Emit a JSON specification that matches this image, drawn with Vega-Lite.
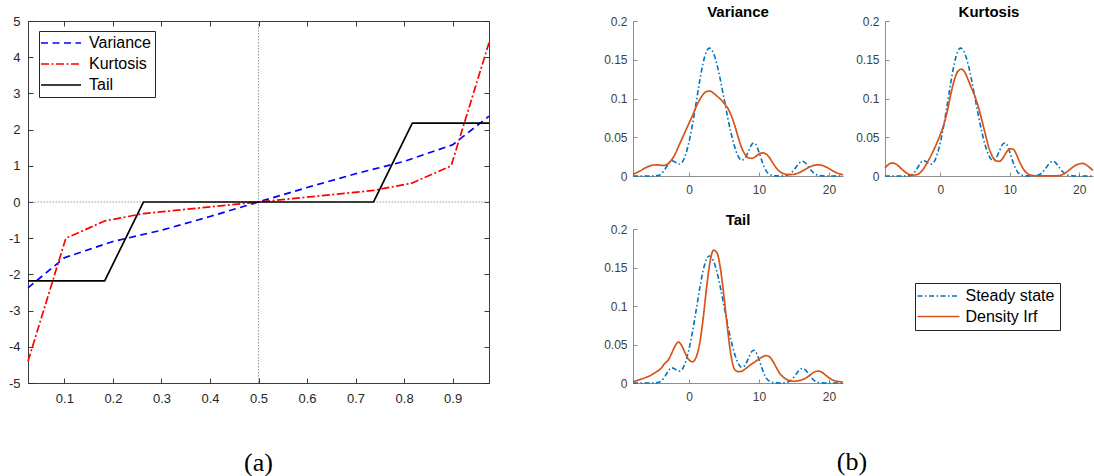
{
  "$schema": "https://vega.github.io/schema/vega-lite/v6.json",
  "background": "white",
  "padding": {"left": 8, "top": 5, "right": 0, "bottom": 0},
  "config": {
    "font": "Liberation Sans",
    "view": {"stroke": null},
    "axis": {"grid": false, "domainColor": "#262626", "domainWidth": 0.9, "tickColor": "#262626", "tickWidth": 0.9, "labelColor": "#262626", "labelFont": "Liberation Sans", "labelOverlap": false, "title": null},
    "title": {"font": "Liberation Sans", "fontSize": 15, "fontWeight": "bold", "color": "#000000", "offset": -5, "anchor": "middle"}
  },
  "datasets": {
    "quantiles": [
      {"series": "Variance", "q": 0.025, "v": -2.37}, {"series": "Variance", "q": 0.1, "v": -1.54}, {"series": "Variance", "q": 0.2, "v": -1.09},
      {"series": "Variance", "q": 0.3, "v": -0.78}, {"series": "Variance", "q": 0.4, "v": -0.4}, {"series": "Variance", "q": 0.5, "v": 0},
      {"series": "Variance", "q": 0.6, "v": 0.4}, {"series": "Variance", "q": 0.7, "v": 0.78}, {"series": "Variance", "q": 0.8, "v": 1.12},
      {"series": "Variance", "q": 0.9, "v": 1.58}, {"series": "Variance", "q": 0.975, "v": 2.37},
      {"series": "Kurtosis", "q": 0.025, "v": -4.4}, {"series": "Kurtosis", "q": 0.103, "v": -1.0}, {"series": "Kurtosis", "q": 0.184, "v": -0.52},
      {"series": "Kurtosis", "q": 0.263, "v": -0.32}, {"series": "Kurtosis", "q": 0.5, "v": 0}, {"series": "Kurtosis", "q": 0.737, "v": 0.32},
      {"series": "Kurtosis", "q": 0.816, "v": 0.52}, {"series": "Kurtosis", "q": 0.897, "v": 1.0}, {"series": "Kurtosis", "q": 0.975, "v": 4.4},
      {"series": "Tail", "q": 0.025, "v": -2.18}, {"series": "Tail", "q": 0.183, "v": -2.18}, {"series": "Tail", "q": 0.263, "v": 0},
      {"series": "Tail", "q": 0.737, "v": 0}, {"series": "Tail", "q": 0.817, "v": 2.18}, {"series": "Tail", "q": 0.975, "v": 2.18}
    ],
    "steady": [
      {"series": "Steady state", "x": -8, "y": 0}, {"series": "Steady state", "x": -7.5, "y": 0}, {"series": "Steady state", "x": -7, "y": 0},
      {"series": "Steady state", "x": -6.5, "y": 0}, {"series": "Steady state", "x": -6, "y": 0}, {"series": "Steady state", "x": -5.5, "y": 0},
      {"series": "Steady state", "x": -5, "y": 0.0001}, {"series": "Steady state", "x": -4.5, "y": 0.0005}, {"series": "Steady state", "x": -4, "y": 0.0025},
      {"series": "Steady state", "x": -3.5, "y": 0.0077}, {"series": "Steady state", "x": -3, "y": 0.0151}, {"series": "Steady state", "x": -2.5, "y": 0.0197},
      {"series": "Steady state", "x": -2, "y": 0.0181}, {"series": "Steady state", "x": -1.5, "y": 0.0152}, {"series": "Steady state", "x": -1, "y": 0.0174},
      {"series": "Steady state", "x": -0.5, "y": 0.0272}, {"series": "Steady state", "x": 0, "y": 0.0439}, {"series": "Steady state", "x": 0.5, "y": 0.0665},
      {"series": "Steady state", "x": 1, "y": 0.0934}, {"series": "Steady state", "x": 1.5, "y": 0.1211}, {"series": "Steady state", "x": 2, "y": 0.1452},
      {"series": "Steady state", "x": 2.5, "y": 0.1609}, {"series": "Steady state", "x": 2.9, "y": 0.165}, {"series": "Steady state", "x": 3.5, "y": 0.1584},
      {"series": "Steady state", "x": 4, "y": 0.1438}, {"series": "Steady state", "x": 4.5, "y": 0.1234}, {"series": "Steady state", "x": 5, "y": 0.1001},
      {"series": "Steady state", "x": 5.5, "y": 0.0767}, {"series": "Steady state", "x": 6, "y": 0.0556}, {"series": "Steady state", "x": 6.5, "y": 0.0383},
      {"series": "Steady state", "x": 7, "y": 0.0261}, {"series": "Steady state", "x": 7.5, "y": 0.0205}, {"series": "Steady state", "x": 8, "y": 0.023},
      {"series": "Steady state", "x": 8.5, "y": 0.0323}, {"series": "Steady state", "x": 9, "y": 0.0412}, {"series": "Steady state", "x": 9.3, "y": 0.0426},
      {"series": "Steady state", "x": 9.5, "y": 0.0412}, {"series": "Steady state", "x": 10, "y": 0.0308}, {"series": "Steady state", "x": 10.5, "y": 0.0171},
      {"series": "Steady state", "x": 11, "y": 0.007}, {"series": "Steady state", "x": 11.5, "y": 0.0021}, {"series": "Steady state", "x": 12, "y": 0.0005},
      {"series": "Steady state", "x": 12.5, "y": 0.0001}, {"series": "Steady state", "x": 13, "y": 0}, {"series": "Steady state", "x": 13.5, "y": 0.0002},
      {"series": "Steady state", "x": 14, "y": 0.001}, {"series": "Steady state", "x": 14.5, "y": 0.0032}, {"series": "Steady state", "x": 15, "y": 0.0078},
      {"series": "Steady state", "x": 15.5, "y": 0.014}, {"series": "Steady state", "x": 16, "y": 0.0185}, {"series": "Steady state", "x": 16.2, "y": 0.019},
      {"series": "Steady state", "x": 16.5, "y": 0.018}, {"series": "Steady state", "x": 17, "y": 0.0128}, {"series": "Steady state", "x": 17.5, "y": 0.0067},
      {"series": "Steady state", "x": 18, "y": 0.0026}, {"series": "Steady state", "x": 18.5, "y": 0.0007}, {"series": "Steady state", "x": 19, "y": 0.0002},
      {"series": "Steady state", "x": 19.5, "y": 0}, {"series": "Steady state", "x": 20, "y": 0}, {"series": "Steady state", "x": 21, "y": 0},
      {"series": "Steady state", "x": 22, "y": 0}
    ],
    "irf": [
      {"panel": "Variance", "series": "Density Irf", "x": -8, "y": 0.0022}, {"panel": "Variance", "series": "Density Irf", "x": -7, "y": 0.0065},
      {"panel": "Variance", "series": "Density Irf", "x": -6, "y": 0.0115}, {"panel": "Variance", "series": "Density Irf", "x": -5, "y": 0.0142},
      {"panel": "Variance", "series": "Density Irf", "x": -4.5, "y": 0.0143}, {"panel": "Variance", "series": "Density Irf", "x": -4, "y": 0.0138},
      {"panel": "Variance", "series": "Density Irf", "x": -3.5, "y": 0.0138}, {"panel": "Variance", "series": "Density Irf", "x": -3, "y": 0.0158},
      {"panel": "Variance", "series": "Density Irf", "x": -2.5, "y": 0.0205}, {"panel": "Variance", "series": "Density Irf", "x": -2, "y": 0.028},
      {"panel": "Variance", "series": "Density Irf", "x": -1.5, "y": 0.038}, {"panel": "Variance", "series": "Density Irf", "x": -1, "y": 0.048},
      {"panel": "Variance", "series": "Density Irf", "x": -0.5, "y": 0.058}, {"panel": "Variance", "series": "Density Irf", "x": 0, "y": 0.068},
      {"panel": "Variance", "series": "Density Irf", "x": 0.5, "y": 0.078}, {"panel": "Variance", "series": "Density Irf", "x": 1, "y": 0.089},
      {"panel": "Variance", "series": "Density Irf", "x": 1.5, "y": 0.098}, {"panel": "Variance", "series": "Density Irf", "x": 2, "y": 0.105},
      {"panel": "Variance", "series": "Density Irf", "x": 2.5, "y": 0.109}, {"panel": "Variance", "series": "Density Irf", "x": 3, "y": 0.1095},
      {"panel": "Variance", "series": "Density Irf", "x": 3.5, "y": 0.107}, {"panel": "Variance", "series": "Density Irf", "x": 4, "y": 0.103},
      {"panel": "Variance", "series": "Density Irf", "x": 4.5, "y": 0.099}, {"panel": "Variance", "series": "Density Irf", "x": 5, "y": 0.094},
      {"panel": "Variance", "series": "Density Irf", "x": 5.5, "y": 0.088}, {"panel": "Variance", "series": "Density Irf", "x": 6, "y": 0.079},
      {"panel": "Variance", "series": "Density Irf", "x": 6.5, "y": 0.066}, {"panel": "Variance", "series": "Density Irf", "x": 7, "y": 0.051},
      {"panel": "Variance", "series": "Density Irf", "x": 7.5, "y": 0.037}, {"panel": "Variance", "series": "Density Irf", "x": 8, "y": 0.028},
      {"panel": "Variance", "series": "Density Irf", "x": 8.5, "y": 0.0235}, {"panel": "Variance", "series": "Density Irf", "x": 9, "y": 0.0228},
      {"panel": "Variance", "series": "Density Irf", "x": 9.5, "y": 0.025}, {"panel": "Variance", "series": "Density Irf", "x": 10, "y": 0.0285},
      {"panel": "Variance", "series": "Density Irf", "x": 10.5, "y": 0.0298}, {"panel": "Variance", "series": "Density Irf", "x": 11, "y": 0.0285},
      {"panel": "Variance", "series": "Density Irf", "x": 11.5, "y": 0.0235}, {"panel": "Variance", "series": "Density Irf", "x": 12, "y": 0.0165},
      {"panel": "Variance", "series": "Density Irf", "x": 12.5, "y": 0.01}, {"panel": "Variance", "series": "Density Irf", "x": 13, "y": 0.0055},
      {"panel": "Variance", "series": "Density Irf", "x": 13.5, "y": 0.003}, {"panel": "Variance", "series": "Density Irf", "x": 14, "y": 0.002},
      {"panel": "Variance", "series": "Density Irf", "x": 14.5, "y": 0.0018}, {"panel": "Variance", "series": "Density Irf", "x": 15, "y": 0.0022},
      {"panel": "Variance", "series": "Density Irf", "x": 15.5, "y": 0.0035}, {"panel": "Variance", "series": "Density Irf", "x": 16, "y": 0.0055},
      {"panel": "Variance", "series": "Density Irf", "x": 16.5, "y": 0.008}, {"panel": "Variance", "series": "Density Irf", "x": 17, "y": 0.0105},
      {"panel": "Variance", "series": "Density Irf", "x": 17.5, "y": 0.0127}, {"panel": "Variance", "series": "Density Irf", "x": 18, "y": 0.014},
      {"panel": "Variance", "series": "Density Irf", "x": 18.5, "y": 0.0144}, {"panel": "Variance", "series": "Density Irf", "x": 19, "y": 0.0138},
      {"panel": "Variance", "series": "Density Irf", "x": 19.5, "y": 0.012}, {"panel": "Variance", "series": "Density Irf", "x": 20, "y": 0.0095},
      {"panel": "Variance", "series": "Density Irf", "x": 20.5, "y": 0.0068}, {"panel": "Variance", "series": "Density Irf", "x": 21, "y": 0.0045},
      {"panel": "Variance", "series": "Density Irf", "x": 21.5, "y": 0.0028}, {"panel": "Variance", "series": "Density Irf", "x": 22, "y": 0.0016},

      {"panel": "Kurtosis", "series": "Density Irf", "x": -8, "y": 0.0105}, {"panel": "Kurtosis", "series": "Density Irf", "x": -7.5, "y": 0.0148},
      {"panel": "Kurtosis", "series": "Density Irf", "x": -7, "y": 0.0167}, {"panel": "Kurtosis", "series": "Density Irf", "x": -6.5, "y": 0.0158},
      {"panel": "Kurtosis", "series": "Density Irf", "x": -6, "y": 0.0125}, {"panel": "Kurtosis", "series": "Density Irf", "x": -5.5, "y": 0.0082},
      {"panel": "Kurtosis", "series": "Density Irf", "x": -5, "y": 0.0045}, {"panel": "Kurtosis", "series": "Density Irf", "x": -4.5, "y": 0.002},
      {"panel": "Kurtosis", "series": "Density Irf", "x": -4, "y": 0.0012}, {"panel": "Kurtosis", "series": "Density Irf", "x": -3.5, "y": 0.0015},
      {"panel": "Kurtosis", "series": "Density Irf", "x": -3, "y": 0.0038}, {"panel": "Kurtosis", "series": "Density Irf", "x": -2.5, "y": 0.0085},
      {"panel": "Kurtosis", "series": "Density Irf", "x": -2, "y": 0.016}, {"panel": "Kurtosis", "series": "Density Irf", "x": -1.5, "y": 0.024},
      {"panel": "Kurtosis", "series": "Density Irf", "x": -1, "y": 0.033}, {"panel": "Kurtosis", "series": "Density Irf", "x": -0.5, "y": 0.043},
      {"panel": "Kurtosis", "series": "Density Irf", "x": 0, "y": 0.054}, {"panel": "Kurtosis", "series": "Density Irf", "x": 0.5, "y": 0.067},
      {"panel": "Kurtosis", "series": "Density Irf", "x": 1, "y": 0.084}, {"panel": "Kurtosis", "series": "Density Irf", "x": 1.5, "y": 0.106},
      {"panel": "Kurtosis", "series": "Density Irf", "x": 2, "y": 0.124}, {"panel": "Kurtosis", "series": "Density Irf", "x": 2.5, "y": 0.135},
      {"panel": "Kurtosis", "series": "Density Irf", "x": 3, "y": 0.1378}, {"panel": "Kurtosis", "series": "Density Irf", "x": 3.5, "y": 0.134},
      {"panel": "Kurtosis", "series": "Density Irf", "x": 4, "y": 0.124}, {"panel": "Kurtosis", "series": "Density Irf", "x": 4.5, "y": 0.113},
      {"panel": "Kurtosis", "series": "Density Irf", "x": 5, "y": 0.102}, {"panel": "Kurtosis", "series": "Density Irf", "x": 5.5, "y": 0.088},
      {"panel": "Kurtosis", "series": "Density Irf", "x": 6, "y": 0.071}, {"panel": "Kurtosis", "series": "Density Irf", "x": 6.5, "y": 0.053},
      {"panel": "Kurtosis", "series": "Density Irf", "x": 7, "y": 0.036}, {"panel": "Kurtosis", "series": "Density Irf", "x": 7.5, "y": 0.025},
      {"panel": "Kurtosis", "series": "Density Irf", "x": 8, "y": 0.0195}, {"panel": "Kurtosis", "series": "Density Irf", "x": 8.5, "y": 0.019},
      {"panel": "Kurtosis", "series": "Density Irf", "x": 9, "y": 0.023}, {"panel": "Kurtosis", "series": "Density Irf", "x": 9.5, "y": 0.0305},
      {"panel": "Kurtosis", "series": "Density Irf", "x": 10, "y": 0.035}, {"panel": "Kurtosis", "series": "Density Irf", "x": 10.5, "y": 0.0345},
      {"panel": "Kurtosis", "series": "Density Irf", "x": 11, "y": 0.027}, {"panel": "Kurtosis", "series": "Density Irf", "x": 11.5, "y": 0.0165},
      {"panel": "Kurtosis", "series": "Density Irf", "x": 12, "y": 0.0085}, {"panel": "Kurtosis", "series": "Density Irf", "x": 12.5, "y": 0.0035},
      {"panel": "Kurtosis", "series": "Density Irf", "x": 13, "y": 0.0012}, {"panel": "Kurtosis", "series": "Density Irf", "x": 13.5, "y": 0.0004},
      {"panel": "Kurtosis", "series": "Density Irf", "x": 14.5, "y": 0.0001}, {"panel": "Kurtosis", "series": "Density Irf", "x": 16, "y": 0.0001},
      {"panel": "Kurtosis", "series": "Density Irf", "x": 17, "y": 0.0004}, {"panel": "Kurtosis", "series": "Density Irf", "x": 17.5, "y": 0.0015},
      {"panel": "Kurtosis", "series": "Density Irf", "x": 18, "y": 0.0038}, {"panel": "Kurtosis", "series": "Density Irf", "x": 18.5, "y": 0.0072},
      {"panel": "Kurtosis", "series": "Density Irf", "x": 19, "y": 0.0108}, {"panel": "Kurtosis", "series": "Density Irf", "x": 19.5, "y": 0.0138},
      {"panel": "Kurtosis", "series": "Density Irf", "x": 20, "y": 0.0156}, {"panel": "Kurtosis", "series": "Density Irf", "x": 20.5, "y": 0.0162},
      {"panel": "Kurtosis", "series": "Density Irf", "x": 21, "y": 0.0145}, {"panel": "Kurtosis", "series": "Density Irf", "x": 21.5, "y": 0.011},
      {"panel": "Kurtosis", "series": "Density Irf", "x": 22, "y": 0.0072},

      {"panel": "Tail", "series": "Density Irf", "x": -8, "y": 0.0015}, {"panel": "Tail", "series": "Density Irf", "x": -7.5, "y": 0.003},
      {"panel": "Tail", "series": "Density Irf", "x": -7, "y": 0.0045}, {"panel": "Tail", "series": "Density Irf", "x": -6.5, "y": 0.006},
      {"panel": "Tail", "series": "Density Irf", "x": -6, "y": 0.0078}, {"panel": "Tail", "series": "Density Irf", "x": -5.5, "y": 0.0097},
      {"panel": "Tail", "series": "Density Irf", "x": -5, "y": 0.0125}, {"panel": "Tail", "series": "Density Irf", "x": -4.5, "y": 0.0155},
      {"panel": "Tail", "series": "Density Irf", "x": -4, "y": 0.019}, {"panel": "Tail", "series": "Density Irf", "x": -3.5, "y": 0.025},
      {"panel": "Tail", "series": "Density Irf", "x": -3, "y": 0.0295}, {"panel": "Tail", "series": "Density Irf", "x": -2.5, "y": 0.038},
      {"panel": "Tail", "series": "Density Irf", "x": -2, "y": 0.048}, {"panel": "Tail", "series": "Density Irf", "x": -1.5, "y": 0.0532},
      {"panel": "Tail", "series": "Density Irf", "x": -1, "y": 0.048}, {"panel": "Tail", "series": "Density Irf", "x": -0.5, "y": 0.038},
      {"panel": "Tail", "series": "Density Irf", "x": 0, "y": 0.03}, {"panel": "Tail", "series": "Density Irf", "x": 0.5, "y": 0.0275},
      {"panel": "Tail", "series": "Density Irf", "x": 1, "y": 0.033}, {"panel": "Tail", "series": "Density Irf", "x": 1.5, "y": 0.05},
      {"panel": "Tail", "series": "Density Irf", "x": 2, "y": 0.082}, {"panel": "Tail", "series": "Density Irf", "x": 2.5, "y": 0.123},
      {"panel": "Tail", "series": "Density Irf", "x": 3, "y": 0.157}, {"panel": "Tail", "series": "Density Irf", "x": 3.5, "y": 0.1725},
      {"panel": "Tail", "series": "Density Irf", "x": 4, "y": 0.169}, {"panel": "Tail", "series": "Density Irf", "x": 4.5, "y": 0.148},
      {"panel": "Tail", "series": "Density Irf", "x": 5, "y": 0.112}, {"panel": "Tail", "series": "Density Irf", "x": 5.5, "y": 0.071},
      {"panel": "Tail", "series": "Density Irf", "x": 6, "y": 0.036}, {"panel": "Tail", "series": "Density Irf", "x": 6.5, "y": 0.018},
      {"panel": "Tail", "series": "Density Irf", "x": 7, "y": 0.0148}, {"panel": "Tail", "series": "Density Irf", "x": 7.5, "y": 0.0152},
      {"panel": "Tail", "series": "Density Irf", "x": 8, "y": 0.018}, {"panel": "Tail", "series": "Density Irf", "x": 8.5, "y": 0.0215},
      {"panel": "Tail", "series": "Density Irf", "x": 9, "y": 0.025}, {"panel": "Tail", "series": "Density Irf", "x": 9.5, "y": 0.028},
      {"panel": "Tail", "series": "Density Irf", "x": 10, "y": 0.031}, {"panel": "Tail", "series": "Density Irf", "x": 10.5, "y": 0.034},
      {"panel": "Tail", "series": "Density Irf", "x": 11, "y": 0.0356}, {"panel": "Tail", "series": "Density Irf", "x": 11.5, "y": 0.034},
      {"panel": "Tail", "series": "Density Irf", "x": 12, "y": 0.028}, {"panel": "Tail", "series": "Density Irf", "x": 12.5, "y": 0.0197},
      {"panel": "Tail", "series": "Density Irf", "x": 13, "y": 0.012}, {"panel": "Tail", "series": "Density Irf", "x": 13.5, "y": 0.0075},
      {"panel": "Tail", "series": "Density Irf", "x": 14, "y": 0.0045}, {"panel": "Tail", "series": "Density Irf", "x": 14.5, "y": 0.0028},
      {"panel": "Tail", "series": "Density Irf", "x": 15, "y": 0.0022}, {"panel": "Tail", "series": "Density Irf", "x": 15.5, "y": 0.0028},
      {"panel": "Tail", "series": "Density Irf", "x": 16, "y": 0.0038}, {"panel": "Tail", "series": "Density Irf", "x": 16.5, "y": 0.0055},
      {"panel": "Tail", "series": "Density Irf", "x": 17, "y": 0.0082}, {"panel": "Tail", "series": "Density Irf", "x": 17.5, "y": 0.0118},
      {"panel": "Tail", "series": "Density Irf", "x": 18, "y": 0.0146}, {"panel": "Tail", "series": "Density Irf", "x": 18.5, "y": 0.0155},
      {"panel": "Tail", "series": "Density Irf", "x": 19, "y": 0.0138}, {"panel": "Tail", "series": "Density Irf", "x": 19.5, "y": 0.0103},
      {"panel": "Tail", "series": "Density Irf", "x": 20, "y": 0.0068}, {"panel": "Tail", "series": "Density Irf", "x": 20.5, "y": 0.004},
      {"panel": "Tail", "series": "Density Irf", "x": 21, "y": 0.0025}, {"panel": "Tail", "series": "Density Irf", "x": 21.5, "y": 0.0017},
      {"panel": "Tail", "series": "Density Irf", "x": 22, "y": 0.0012}
    ]
  },
  "bounds": "flush",
  "spacing": 144,
  "resolve": {"scale": {"color": "independent", "strokeDash": "independent"}, "legend": {"color": "independent", "strokeDash": "independent"}},
  "hconcat": [
    {
      "width": 461,
      "height": 362,
      "title": {"text": "(a)", "orient": "bottom", "frame": "group", "offset": 44, "font": "Liberation Serif", "fontSize": 26, "fontWeight": "normal", "anchor": "middle"},
      "resolve": {"axis": {"x": "independent", "y": "independent"}},
      "layer": [
        {
          "data": {"values": [{"at": 0.5}]},
          "mark": {"type": "rule", "color": "#808080", "strokeWidth": 0.8, "strokeDash": [1.5, 1.5]},
          "encoding": {
            "x": {"field": "at", "type": "quantitative", "scale": {"domain": [0.025, 0.975], "nice": false, "zero": false},
                  "axis": {"orient": "top", "values": [0.1, 0.2, 0.3, 0.4, 0.5, 0.6, 0.7, 0.8, 0.9], "tickCount": 20, "labels": false, "tickSize": -5, "title": null}}
          }
        },
        {
          "data": {"values": [{"at": 0}]},
          "mark": {"type": "rule", "color": "#808080", "strokeWidth": 0.8, "strokeDash": [1.5, 1.5]},
          "encoding": {
            "y": {"field": "at", "type": "quantitative", "scale": {"domain": [-5, 5], "nice": false, "zero": false},
                  "axis": {"orient": "right", "values": [-5, -4, -3, -2, -1, 0, 1, 2, 3, 4, 5], "tickCount": 20, "labels": false, "tickSize": -5, "title": null}}
          }
        },
        {
          "data": {"name": "quantiles"},
          "mark": {"type": "line", "strokeWidth": 1.7},
          "encoding": {
            "x": {"field": "q", "type": "quantitative", "scale": {"domain": [0.025, 0.975], "nice": false, "zero": false},
                  "axis": {"orient": "bottom", "values": [0.1, 0.2, 0.3, 0.4, 0.5, 0.6, 0.7, 0.8, 0.9], "tickCount": 20, "tickSize": -5, "labelPadding": 14.5, "labelFontSize": 13, "labelOverlap": false, "labelExpr": "toString(datum.value)", "title": null}},
            "y": {"field": "v", "type": "quantitative", "scale": {"domain": [-5, 5], "nice": false, "zero": false},
                  "axis": {"orient": "left", "values": [-5, -4, -3, -2, -1, 0, 1, 2, 3, 4, 5], "tickCount": 20, "tickSize": -5, "labelPadding": 13, "labelFontSize": 13, "labelOverlap": false, "labelExpr": "toString(datum.value)", "title": null}},
            "color": {"field": "series", "type": "nominal", "sort": ["Variance", "Kurtosis", "Tail"],
                      "scale": {"domain": ["Variance", "Kurtosis", "Tail"], "range": ["#0000FF", "#FF0000", "#000000"]},
                      "legend": {"orient": "none", "legendX": 11, "legendY": 10, "title": null, "strokeColor": "#262626", "fillColor": "#ffffff", "padding": 4, "labelFontSize": 16, "labelFont": "Liberation Sans", "labelColor": "#000000", "rowPadding": 5, "symbolType": "M-4,0H4", "symbolSize": 100, "symbolStrokeWidth": 1.7, "symbolOffset": 10, "labelOffset": 20, "labelLimit": 300}},
            "strokeDash": {"field": "series", "type": "nominal", "sort": ["Variance", "Kurtosis", "Tail"],
                           "scale": {"domain": ["Variance", "Kurtosis", "Tail"], "range": [[7, 4.5], [8, 2.5, 2, 2.5], [1, 0]]},
                           "legend": {"orient": "none", "legendX": 11, "legendY": 10, "title": null, "strokeColor": "#262626", "fillColor": "#ffffff", "padding": 4, "labelFontSize": 16, "labelFont": "Liberation Sans", "labelColor": "#000000", "rowPadding": 5, "symbolType": "M-4,0H4", "symbolSize": 100, "symbolStrokeWidth": 1.7, "symbolOffset": 10, "labelOffset": 20, "labelLimit": 300}}
          }
        }
      ]
    },
    {
      "columns": 2,
      "bounds": "flush",
      "spacing": {"row": 53, "column": 42},
      "title": {"text": "(b)", "orient": "bottom", "frame": "bounds", "offset": 47, "dx": 2, "font": "Liberation Serif", "fontSize": 26, "fontWeight": "normal", "anchor": "middle"},
      "resolve": {"scale": {"color": "independent", "strokeDash": "independent"}, "legend": {"color": "independent", "strokeDash": "independent"}},
      "concat": [
        {
          "width": 210,
          "height": 155,
          "title": "Variance",
          "encoding": {
            "x": {"field": "x", "type": "quantitative", "scale": {"domain": [-8, 22], "nice": false, "zero": false}, "axis": {"values": [0, 10, 20], "tickCount": 20, "tickSize": -4, "labelPadding": 12, "labelFontSize": 12, "labelOverlap": false, "labelExpr": "toString(datum.value)", "domainColor": "#808080", "tickColor": "#808080", "labelColor": "#404040", "title": null}},
            "y": {"field": "y", "type": "quantitative", "scale": {"domain": [0, 0.2], "nice": false}, "axis": {"values": [0, 0.05, 0.1, 0.15, 0.2], "tickCount": 20, "tickSize": -4, "labelPadding": 10, "labelFontSize": 12, "labelOverlap": false, "labelExpr": "toString(datum.value)", "domainColor": "#808080", "tickColor": "#808080", "labelColor": "#404040", "title": null}},
            "color": {"field": "series", "type": "nominal", "scale": {"domain": ["Steady state", "Density Irf"], "range": ["#0072BD", "#D95319"]}, "legend": null},
            "strokeDash": {"field": "series", "type": "nominal", "scale": {"domain": ["Steady state", "Density Irf"], "range": [[5, 2.5, 1.5, 2.5], [1, 0]]}, "legend": null}
          },
          "layer": [
            {"data": {"name": "steady"}, "mark": {"type": "line", "interpolate": "monotone", "strokeWidth": 1.6}},
            {"data": {"name": "irf"}, "transform": [{"filter": "datum.panel === 'Variance'"}], "mark": {"type": "line", "interpolate": "monotone", "strokeWidth": 1.7}}
          ]
        },
        {
          "width": 208,
          "height": 155,
          "title": "Kurtosis",
          "encoding": {
            "x": {"field": "x", "type": "quantitative", "scale": {"domain": [-8, 22], "nice": false, "zero": false}, "axis": {"values": [0, 10, 20], "tickCount": 20, "tickSize": -4, "labelPadding": 12, "labelFontSize": 12, "labelOverlap": false, "labelExpr": "toString(datum.value)", "domainColor": "#808080", "tickColor": "#808080", "labelColor": "#404040", "title": null}},
            "y": {"field": "y", "type": "quantitative", "scale": {"domain": [0, 0.2], "nice": false}, "axis": {"values": [0, 0.05, 0.1, 0.15, 0.2], "tickCount": 20, "tickSize": -4, "labelPadding": 10, "labelFontSize": 12, "labelOverlap": false, "labelExpr": "toString(datum.value)", "domainColor": "#808080", "tickColor": "#808080", "labelColor": "#404040", "title": null}},
            "color": {"field": "series", "type": "nominal", "scale": {"domain": ["Steady state", "Density Irf"], "range": ["#0072BD", "#D95319"]}, "legend": null},
            "strokeDash": {"field": "series", "type": "nominal", "scale": {"domain": ["Steady state", "Density Irf"], "range": [[5, 2.5, 1.5, 2.5], [1, 0]]}, "legend": null}
          },
          "layer": [
            {"data": {"name": "steady"}, "mark": {"type": "line", "interpolate": "monotone", "strokeWidth": 1.6}},
            {"data": {"name": "irf"}, "transform": [{"filter": "datum.panel === 'Kurtosis'"}], "mark": {"type": "line", "interpolate": "monotone", "strokeWidth": 1.7}}
          ]
        },
        {
          "width": 210,
          "height": 154,
          "title": "Tail",
          "encoding": {
            "x": {"field": "x", "type": "quantitative", "scale": {"domain": [-8, 22], "nice": false, "zero": false}, "axis": {"values": [0, 10, 20], "tickCount": 20, "tickSize": -4, "labelPadding": 12, "labelFontSize": 12, "labelOverlap": false, "labelExpr": "toString(datum.value)", "domainColor": "#808080", "tickColor": "#808080", "labelColor": "#404040", "title": null}},
            "y": {"field": "y", "type": "quantitative", "scale": {"domain": [0, 0.2], "nice": false}, "axis": {"values": [0, 0.05, 0.1, 0.15, 0.2], "tickCount": 20, "tickSize": -4, "labelPadding": 10, "labelFontSize": 12, "labelOverlap": false, "labelExpr": "toString(datum.value)", "domainColor": "#808080", "tickColor": "#808080", "labelColor": "#404040", "title": null}},
            "color": {"field": "series", "type": "nominal", "scale": {"domain": ["Steady state", "Density Irf"], "range": ["#0072BD", "#D95319"]},
                      "legend": {"orient": "none", "legendX": 282, "legendY": 54, "title": null, "strokeColor": "#262626", "fillColor": "#ffffff", "padding": 5, "labelFontSize": 16, "labelFont": "Liberation Sans", "labelColor": "#000000", "rowPadding": 4.5, "symbolType": "M-4,0H4", "symbolSize": 110, "symbolStrokeWidth": 1.6, "symbolOffset": 10.5, "labelOffset": 19, "labelLimit": 300}},
            "strokeDash": {"field": "series", "type": "nominal", "scale": {"domain": ["Steady state", "Density Irf"], "range": [[5, 2.5, 1.5, 2.5], [1, 0]]},
                           "legend": {"orient": "none", "legendX": 282, "legendY": 54, "title": null, "strokeColor": "#262626", "fillColor": "#ffffff", "padding": 5, "labelFontSize": 16, "labelFont": "Liberation Sans", "labelColor": "#000000", "rowPadding": 4.5, "symbolType": "M-4,0H4", "symbolSize": 110, "symbolStrokeWidth": 1.6, "symbolOffset": 10.5, "labelOffset": 19, "labelLimit": 300}}
          },
          "layer": [
            {"data": {"name": "steady"}, "mark": {"type": "line", "interpolate": "monotone", "strokeWidth": 1.6}},
            {"data": {"name": "irf"}, "transform": [{"filter": "datum.panel === 'Tail'"}], "mark": {"type": "line", "interpolate": "monotone", "strokeWidth": 1.7}}
          ]
        }
      ]
    }
  ]
}
